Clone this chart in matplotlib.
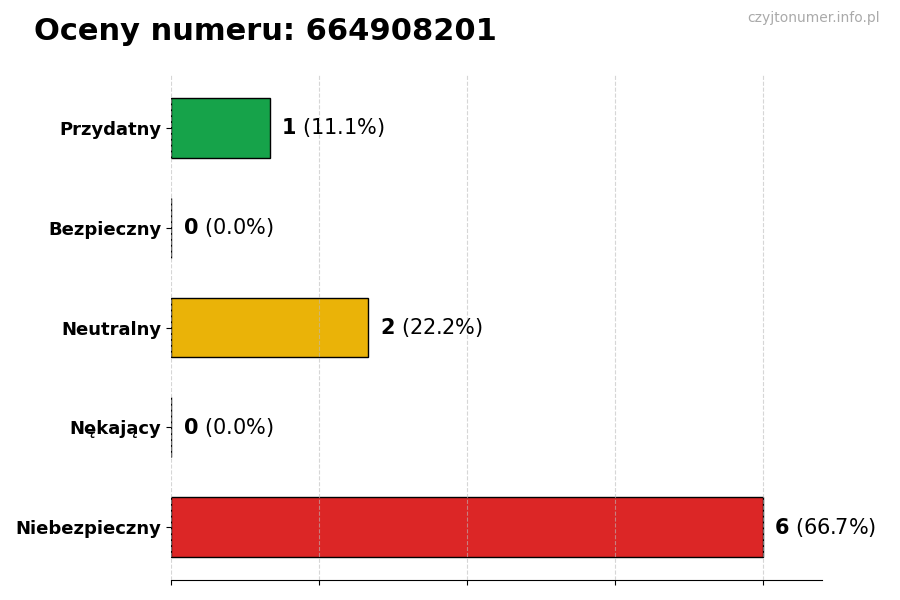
import matplotlib
matplotlib.use("Agg")
import matplotlib.pyplot as plt

categories = ["Przydatny", "Bezpieczny", "Neutralny", "Nękający", "Niebezpieczny"]
counts = [1, 0, 2, 0, 6]
colors = ["#16a34a", "#6b7280", "#eab308", "#f97316", "#dc2626"]
title = "Oceny numeru: 664908201"
watermark = "czyjtonumer.info.pl"

total = sum(counts)

fig = plt.figure(figsize=(9, 6), dpi=100)
ax = fig.add_axes([0.19, 0.0333, 0.723, 0.8417])

ypos = list(range(len(categories)))
ax.barh(ypos, counts, height=0.6, color=colors, edgecolor="black", linewidth=1, zorder=2)
ax.set_yticks(ypos)
ax.set_yticklabels(categories, fontsize=13, fontweight="bold")
ax.invert_yaxis()

xmax = max(counts)
ax.set_xlim(0, xmax * 1.1)
ax.set_xticks([0, 1.5, 3, 4.5, 6])
ax.set_xticklabels([])
ax.set_axisbelow(False)
ax.grid(axis="x", linestyle="--", color="#bbbbbb", alpha=0.6, linewidth=0.8, zorder=3)

for y, c in zip(ypos, counts):
    pct = c / total * 100
    ax.text(c + xmax * 0.02, y, r"$\bf{%d}$ (%.1f%%)" % (c, pct),
            va="center", ha="left", fontsize=15, zorder=4)

for s in ["top", "right", "left"]:
    ax.spines[s].set_visible(False)

fig.text(0.038, 0.948, title, fontsize=22, fontweight="bold", ha="left", va="center")
fig.text(0.978, 0.97, watermark, fontsize=10, color="#aaaaaa", ha="right", va="center")

fig.savefig("out.png", dpi=100)
